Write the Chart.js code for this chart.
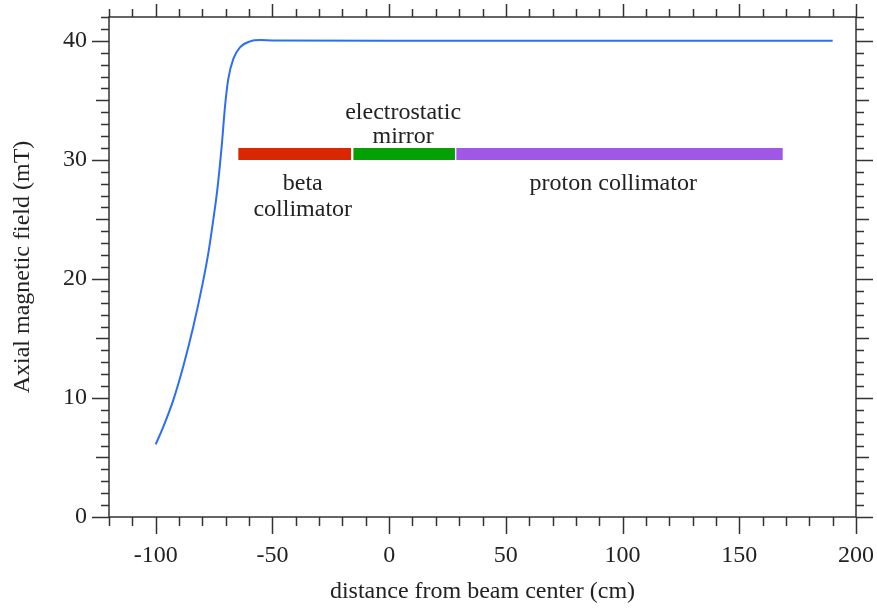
<!DOCTYPE html>
<html>
<head>
<meta charset="utf-8">
<script src="https://cdn.jsdelivr.net/npm/chart.js@4.4.1/dist/chart.umd.min.js"></script>
<style>
  html, body { margin: 0; padding: 0; background: #fff; }
  #wrap { width: 877px; height: 611px; }
</style>
</head>
<body>
<div id="wrap"><canvas id="fieldChart"></canvas></div>
<script>
// field profile along the beam axis
const positionCm = [-100, -96.8, -92.5, -88.2, -84, -80, -77.5, -75.3, -73.6, -71.7, -70.3, -68.9, -66.7, -63.9, -59.6, -55, -50, 0, 50, 100, 150, 190];
const fieldMt = [6.1, 7.55, 9.8, 12.65, 15.9, 19.5, 22.1, 25.0, 27.5, 31.2, 34.5, 36.8, 38.5, 39.45, 39.95, 40.06, 40.03, 40, 40, 40, 40, 40];

// element extents (start, end) in cm, drawn at a fixed height
const barLevel = 30.5;
const betaSpan = [-64.6, -16.3];
const mirrorSpan = [-15.3, 28.2];
const protonSpan = [28.8, 168.6];

// labels: text lines, x position (cm), y position of each line (mT)
const regionLabels = [
  { lines: ["electrostatic", "mirror"], x: 6, y: [34.0, 31.95] },
  { lines: ["beta", "collimator"], x: -37, y: [28.0, 25.8] },
  { lines: ["proton collimator"], x: 96, y: [28.0] }
];

const xTickValues = [-100, -50, 0, 50, 100, 150, 200];
const yTickValues = [0, 10, 20, 30, 40];

const FONT = "'Liberation Serif', 'Times New Roman', serif";
const INK = "#222";

function span(s) {
  return [{ x: s[0], y: barLevel }, { x: s[1], y: barLevel }];
}

function barSet(s, color) {
  return {
    data: span(s),
    borderColor: color,
    borderWidth: 12,
    borderCapStyle: "butt",
    pointRadius: 0,
    order: 2
  };
}

// frame with outward ticks on all four sides
const frameTicks = {
  id: "frameTicks",
  afterDraw(chart) {
    const { ctx, chartArea: a, scales } = chart;
    const x = scales.x, y = scales.y;
    ctx.save();
    ctx.strokeStyle = "#333";
    ctx.lineWidth = 1.5;
    ctx.strokeRect(a.left, a.top, a.right - a.left, a.bottom - a.top);
    ctx.beginPath();
    for (let v = -120; v <= 200; v += 10) {
      const px = Math.round(x.getPixelForValue(v)) + 0.5;
      const bot = v % 50 === 0 ? 17 : 9;
      const top = v % 50 === 0 ? 13 : 8;
      ctx.moveTo(px, a.bottom); ctx.lineTo(px, a.bottom + bot);
      ctx.moveTo(px, a.top); ctx.lineTo(px, a.top - top);
    }
    for (let v = 0; v <= 42; v += 1) {
      const py = Math.round(y.getPixelForValue(v)) + 0.5;
      const len = v % 10 === 0 ? 17 : (v % 5 === 0 ? 13 : 8);
      ctx.moveTo(a.left, py); ctx.lineTo(a.left - len, py);
      ctx.moveTo(a.right, py); ctx.lineTo(a.right + len, py);
    }
    ctx.stroke();

    ctx.fillStyle = INK;
    ctx.font = "24px " + FONT;
    ctx.textAlign = "center";
    ctx.textBaseline = "middle";
    regionLabels.forEach((lab) => {
      lab.lines.forEach((t, i) => {
        ctx.fillText(t, x.getPixelForValue(lab.x), y.getPixelForValue(lab.y[i]));
      });
    });
    ctx.restore();
  }
};

new Chart(document.getElementById("fieldChart"), {
  type: "line",
  data: {
    datasets: [
      {
        data: positionCm.map((p, i) => ({ x: p, y: fieldMt[i] })),
        borderColor: "#2c6ef6",
        borderWidth: 2,
        pointRadius: 0,
        cubicInterpolationMode: "monotone",
        order: 1
      },
      barSet(betaSpan, "#d92800"),
      barSet(mirrorSpan, "#03a103"),
      barSet(protonSpan, "#a057e6")
    ]
  },
  options: {
    responsive: true,
    maintainAspectRatio: false,
    animation: false,
    layout: { padding: { top: 17, right: 21, left: 0, bottom: 0 } },
    plugins: { legend: { display: false }, tooltip: { enabled: false } },
    scales: {
      x: {
        type: "linear",
        min: -120,
        max: 200,
        grid: { display: false },
        border: { display: false },
        afterBuildTicks: (s) => { s.ticks = xTickValues.map((v) => ({ value: v })); },
        afterFit: (s) => { s.height = 94; s.paddingLeft = 0; s.paddingRight = 0; },
        ticks: { color: INK, font: { family: FONT, size: 24 }, padding: 16, maxRotation: 0 },
        title: {
          display: true,
          text: "distance from beam center (cm)",
          color: INK,
          font: { family: FONT, size: 24 },
          padding: { top: 0, bottom: 5 }
        }
      },
      y: {
        min: 0,
        max: 42,
        grid: { display: false },
        border: { display: false },
        afterBuildTicks: (s) => { s.ticks = yTickValues.map((v) => ({ value: v })); },
        afterFit: (s) => { s.width = 109; s.paddingTop = 0; s.paddingBottom = 0; },
        ticks: { color: INK, font: { family: FONT, size: 24 }, padding: 14 },
        title: {
          display: true,
          text: "Axial magnetic field (mT)",
          color: INK,
          font: { family: FONT, size: 24 },
          padding: { top: 8, bottom: 0 }
        }
      }
    }
  },
  plugins: [frameTicks]
});
</script>
</body>
</html>
